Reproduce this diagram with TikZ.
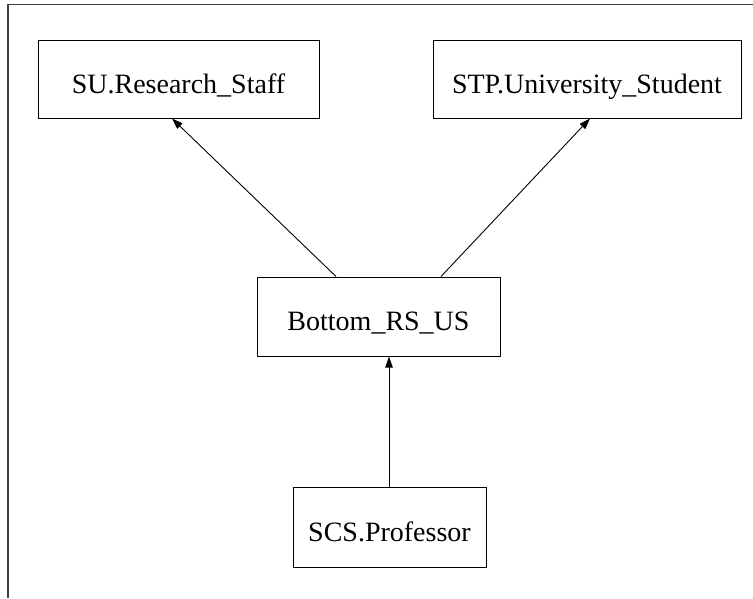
\documentclass[tikz,border=0pt]{standalone}
\usepackage{fontspec}
\setmainfont{Liberation Serif}
\usetikzlibrary{arrows.meta}
\begin{document}
\begin{tikzpicture}[x=1pt,y=-1pt,
  classbox/.style={draw,line width=1pt,rectangle,inner sep=0pt,
    text height=28.5pt,text depth=0pt,
    font=\fontsize{28}{34}\selectfont},
  arr/.style={-{Triangle[length=11pt,width=7.5pt]},line width=0.9pt}]
  \useasboundingbox (0,0) rectangle (753,598);
  % frame edges
  \coordinate (ftop) at (753,4.5);
  \coordinate (fcorner) at (8,4.5);
  \coordinate (fbottom) at (8,598);
  \draw[line width=1.3pt,black!75] (ftop) -- (fcorner) -- (fbottom);
  % class nodes
  \node[classbox,minimum width=281pt,minimum height=78pt] (rs) at (178.5,79) {SU.Research\_Staff};
  \node[classbox,minimum width=308pt,minimum height=78pt] (us) at (587,79) {STP.University\_Student};
  \node[classbox,minimum width=243pt,minimum height=79pt] (bot) at (378.5,316.5) {Bottom\_RS\_US};
  \node[classbox,minimum width=193pt,minimum height=80pt] (prof) at (389.5,527) {SCS.Professor};
  % inheritance links
  \draw[arr] ([xshift=-42.5pt]bot.north) -- ([xshift=-6.5pt]rs.south);
  \draw[arr] ([xshift=62.5pt]bot.north) -- ([xshift=3pt]us.south);
  \draw[arr] ([xshift=-0.5pt]prof.north) -- ([xshift=10.5pt]bot.south);
\end{tikzpicture}
\end{document}
